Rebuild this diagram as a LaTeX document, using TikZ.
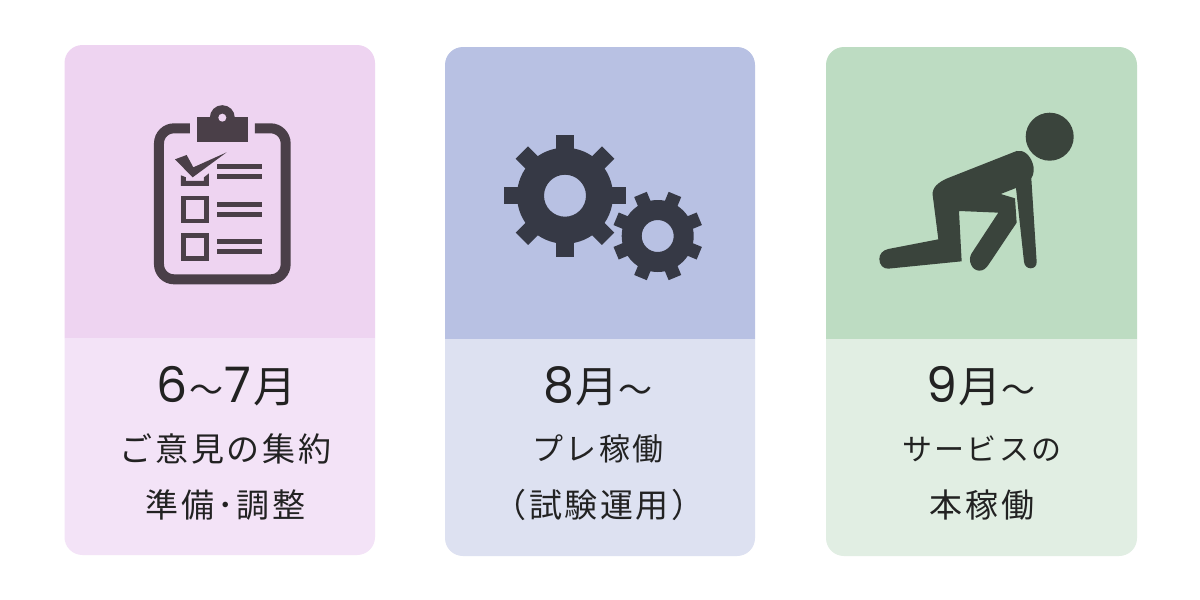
\documentclass[tikz,border=0pt]{standalone}
\usepackage{fontspec}
\newfontfamily\jpbig[LetterSpace=2]{Noto Sans CJK JP}
\newfontfamily\jptxt[LetterSpace=8]{Noto Sans CJK JP}
\newfontfamily\numfont{Poppins}
\definecolor{topa}{HTML}{EED4F1}\definecolor{bota}{HTML}{F3E3F7}
\definecolor{topb}{HTML}{B8C1E3}\definecolor{botb}{HTML}{DDE1F1}
\definecolor{topc}{HTML}{BDDCC2}\definecolor{botc}{HTML}{E1EEE3}
\definecolor{icona}{HTML}{4A3F48}\definecolor{iconb}{HTML}{363945}\definecolor{iconc}{HTML}{3A443C}
\definecolor{ink}{HTML}{222222}
\tikzset{
  big/.style={text=ink,inner sep=0pt,font=\jpbig\fontsize{43}{50}\selectfont},
  small/.style={text=ink,inner sep=0pt,font=\jptxt\fontsize{33}{38}\selectfont},
  kana/.style={text=ink,inner sep=0pt,font=\jptxt\fontsize{30}{38}\selectfont},
}
\newcommand{\dg}[1]{{\numfont\fontsize{49}{50}\selectfont #1}}
\newcommand{\tld}{{\jpbig\fontsize{34}{50}\selectfont ～}}
\newcommand{\card}[7]{% x0 x1 y0 split y1 top bottom
  \fill[#6] (#1,#4) -- (#1,#3+18) .. controls (#1,#3+8) and (#1+8,#3) .. (#1+18,#3) -- (#2-18,#3) .. controls (#2-8,#3) and (#2,#3+8) .. (#2,#3+18) -- (#2,#4) -- cycle;
  \fill[#7] (#1,#4) -- (#1,#5-18) .. controls (#1,#5-8) and (#1+8,#5) .. (#1+18,#5) -- (#2-18,#5) .. controls (#2-8,#5) and (#2,#5-8) .. (#2,#5-18) -- (#2,#4) -- cycle;
}
\newcommand{\gearpath}[6]{% cx cy body tooth halfwidth offset
  \foreach \a in {0,45,...,315}{
    \fill[iconb,rotate around={\a+#6:(#1,#2)}] (#1+#3-3,#2-#5) rectangle (#1+#4,#2+#5);
  }
}
\begin{document}
\begin{tikzpicture}[x=1pt,y=-1pt]
\useasboundingbox (0,0) rectangle (1200,600);
\fill[white] (0,0) rectangle (1200,600);
\card{64.5}{375}{45}{338}{555}{topa}{bota}
\card{445}{755}{47}{339}{556}{topb}{botb}
\card{826}{1137}{47}{339}{556}{topc}{botc}

% clipboard
\begin{scope}[shift={(130,90)},x=0.3333pt,y=-0.3333pt]
  \draw[icona,line width=10pt,rounded corners=15pt] (180,115) -- (87,115) -- (87,568) -- (467,568) -- (467,115) -- (375,115);
  \fill[icona] (277,83) circle[radius=37.5];
  \fill[icona] (200,82) rectangle (355,155);
  \fill[topa] (277,83) circle[radius=12];
  \fill[icona] (135,208) -- (170,195) -- (190,232) -- (290,187) -- (188,262) -- cycle;
  \fill[icona] (153,256) -- (168,262) -- (168,273) -- (222,273) -- (222,262) -- (237,250) -- (237,288) -- (153,288) -- cycle;
  \draw[icona,line width=4.6pt] (160,324) rectangle (230,393);
  \draw[icona,line width=4.6pt] (160,436) rectangle (230,505);
  \foreach \yy in {223,253,336,366,448,478}{\fill[icona] (261,\yy) rectangle (395,\yy+15);}
\end{scope}

% gears
\gearpath{565}{195.7}{48}{61}{8.7}{0}
\fill[iconb,even odd rule] (565,195.7) circle[radius=48] (565,195.7) circle[radius=21];
\gearpath{657.7}{236}{36}{45}{6.8}{22.5}
\fill[iconb,even odd rule] (657.7,236) circle[radius=36] (657.7,236) circle[radius=16];

% person
\fill[iconc] (1049.7,136.7) circle[radius=24];
\begin{scope}[shift={(860,100)},x=0.3333pt,y=-0.3333pt]
  \fill[iconc] (470,153) -- (262,235) .. controls (235,247) and (216,262) .. (218,285)
    -- (235,418) -- (85,447) .. controls (68,451) and (58,462) .. (58,477)
    .. controls (58,495) and (70,507) .. (85,506) -- (305,484) -- (297,333) -- (415,338) -- (335,460)
    .. controls (322,480) and (335,512) .. (358,512) .. controls (370,512) and (378,505) .. (385,495)
    -- (470,368) -- (465,295) -- (422,282) -- (468,264) -- (492,485)
    .. controls (493,497) and (502,505) .. (512,505) .. controls (523,505) and (531,497) .. (530,485)
    -- (514,235) .. controls (522,222) and (524,205) .. (518,190) .. controls (510,165) and (490,148) .. (470,153) -- cycle;
\end{scope}

% text
\node[big] (a1) at (226.5,386) {\dg{6}\kern1.5pt\tld\kern1.5pt\dg{7}\kern2pt月};
\node[small] (a2) at (225.5,449) {ご意見の集約};
\node[small] (a3) at (225.5,505) {準備･調整};
\node[big] (b1) at (598,386) {\dg{8}\kern1pt月\tld};
\node[kana,font=\jptxt\fontsize{31}{38}\selectfont] (b2) at (598,449) {プレ稼働};
\node[small] (b3) at (599,505) {（試験運用）};
\node[big] (c1) at (981,386) {\dg{9}\kern1pt月\tld};
\node[kana] (c2) at (982,449) {サービスの};
\node[small] (c3) at (982,505) {本稼働};
\end{tikzpicture}
\end{document}
